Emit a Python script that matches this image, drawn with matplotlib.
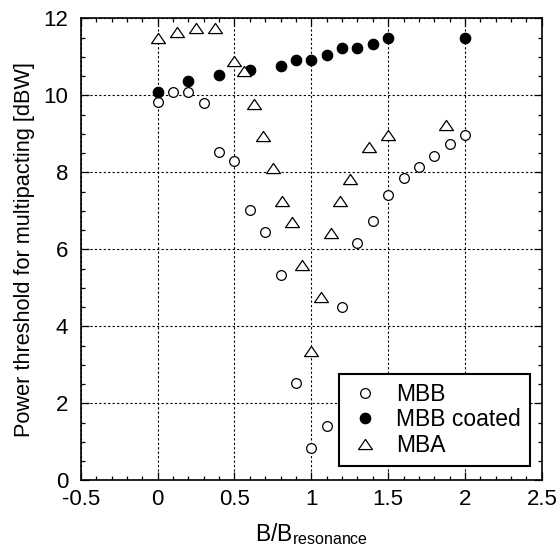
import matplotlib
matplotlib.use("Agg")
import matplotlib.pyplot as plt
from matplotlib.ticker import MultipleLocator
from matplotlib.path import Path

plt.rcParams['font.family'] = ['Liberation Sans', 'DejaVu Sans']
plt.rcParams['mathtext.fontset'] = 'custom'
plt.rcParams['mathtext.rm'] = 'Liberation Sans'
plt.rcParams['mathtext.it'] = 'Liberation Sans'

# MBB (open circles)
mbb_x = [0, 0.1, 0.2, 0.3, 0.4, 0.5, 0.6, 0.7, 0.8, 0.9, 1.0, 1.1, 1.2, 1.3, 1.4, 1.5, 1.6, 1.7, 1.8, 1.9, 2.0]
mbb_y = [9.82, 10.1, 10.1, 9.81, 8.52, 8.3, 7.02, 6.45, 5.34, 2.54, 0.85, 1.42, 4.5, 6.18, 6.74, 7.41, 7.85, 8.14, 8.42, 8.75, 8.97]

# MBB coated (filled circles)
coat_x = [0, 0.2, 0.4, 0.6, 0.8, 0.9, 1.0, 1.1, 1.2, 1.3, 1.4, 1.5, 2.0]
coat_y = [10.1, 10.38, 10.53, 10.66, 10.77, 10.92, 10.92, 11.05, 11.22, 11.22, 11.34, 11.49, 11.49]

# MBA (triangles)
mba_x = [0, 0.125, 0.25, 0.375, 0.5, 0.5625, 0.625, 0.6875, 0.75, 0.8125, 0.875, 0.9375, 1.0, 1.0625, 1.125, 1.1875, 1.25, 1.375, 1.5, 1.875]
mba_y = [11.49, 11.64, 11.74, 11.74, 10.9, 10.64, 9.78, 8.95, 8.12, 7.27, 6.72, 5.59, 3.35, 4.76, 6.44, 7.27, 7.83, 8.67, 8.96, 9.23]

labels = ['MBB', 'MBB coated', 'MBA']
x_ticks = [-0.5, 0, 0.5, 1, 1.5, 2, 2.5]
x_ticklabels = ['-0.5', '0', '0.5', '1', '1.5', '2', '2.5']
y_ticks = [0, 2, 4, 6, 8, 10, 12]
y_ticklabels = ['0', '2', '4', '6', '8', '10', '12']

fig = plt.figure(figsize=(5.56, 5.54), dpi=100)
ax = fig.add_axes([0.1453, 0.1327, 0.8292, 0.834])

tri = Path([(-1, -0.73), (1, -0.73), (0, 0.73), (-1, -0.73)],
           [Path.MOVETO, Path.LINETO, Path.LINETO, Path.CLOSEPOLY])
ax.plot(mbb_x, mbb_y, linestyle='none', marker='o', markersize=7, markerfacecolor='white',
        markeredgecolor='black', markeredgewidth=0.9, label=labels[0], zorder=3)
ax.plot(coat_x, coat_y, linestyle='none', marker='o', markersize=7.5, markerfacecolor='black',
        markeredgecolor='black', markeredgewidth=0.9, label=labels[1], zorder=3)
ax.plot(mba_x, mba_y, linestyle='none', marker=tri, markersize=10, markerfacecolor='white',
        markeredgecolor='black', markeredgewidth=0.9, label=labels[2], zorder=3)

ax.set_xlim(-0.5, 2.5)
ax.set_ylim(0, 12)
ax.set_xticks(x_ticks)
ax.set_xticklabels(x_ticklabels)
ax.set_yticks(y_ticks)
ax.set_yticklabels(y_ticklabels)
ax.xaxis.set_minor_locator(MultipleLocator(0.1))
ax.yaxis.set_minor_locator(MultipleLocator(0.5))
ax.tick_params(which='both', direction='in', top=True, right=True, labelsize=16, width=0.9)
ax.tick_params(which='major', length=6)
ax.tick_params(which='minor', length=3)
ax.tick_params(axis='x', which='major', pad=6)
ax.tick_params(axis='y', which='major', pad=9)
ax.grid(True, which='major', color='black', linestyle=(0, (2, 2)), linewidth=0.8)
for s in ax.spines.values():
    s.set_linewidth(1.2)

ax.set_xlabel(r'B/B$_{\mathrm{resonance}}$', fontsize=16.5, labelpad=8)
ax.set_ylabel('Power threshold for multipacting [dBW]', fontsize=15.7, labelpad=6)

leg = ax.legend(loc='lower right', bbox_to_anchor=(0.9744, 0.032), borderaxespad=0,
                fontsize=16.5, frameon=True, fancybox=False, edgecolor='black',
                handletextpad=0.6, labelspacing=0.1, handlelength=1.5, borderpad=0.4)
leg.get_frame().set_linewidth(1.5)
leg.get_frame().set_alpha(1)

fig.savefig('out.png', dpi=100)
